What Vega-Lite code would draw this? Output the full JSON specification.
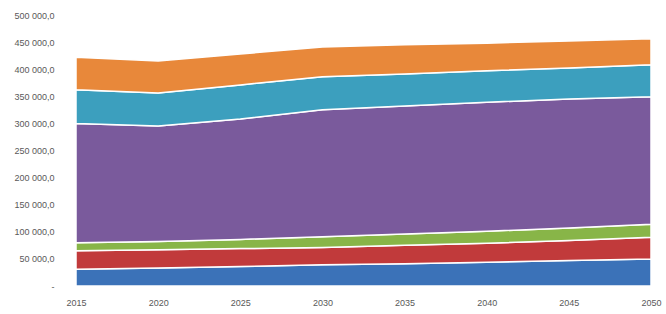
{
  "$schema": "https://vega.github.io/schema/vega-lite/v6.json",
  "width": 575,
  "height": 271,
  "autosize": {"type": "none"},
  "padding": {"left": 76, "top": 15, "right": 15, "bottom": 28},
  "background": "white",
  "config": {"view": {"stroke": null}, "font": "Liberation Sans"},
  "data": {"values": [
    {"year": 2015, "series": "Series 1", "value": 31000},
    {"year": 2020, "series": "Series 1", "value": 33000},
    {"year": 2025, "series": "Series 1", "value": 36000},
    {"year": 2030, "series": "Series 1", "value": 39000},
    {"year": 2035, "series": "Series 1", "value": 41000},
    {"year": 2040, "series": "Series 1", "value": 44000},
    {"year": 2045, "series": "Series 1", "value": 47000},
    {"year": 2050, "series": "Series 1", "value": 50000},
    {"year": 2015, "series": "Series 2", "value": 34000},
    {"year": 2020, "series": "Series 2", "value": 34000},
    {"year": 2025, "series": "Series 2", "value": 33000},
    {"year": 2030, "series": "Series 2", "value": 32000},
    {"year": 2035, "series": "Series 2", "value": 34000},
    {"year": 2040, "series": "Series 2", "value": 35000},
    {"year": 2045, "series": "Series 2", "value": 37000},
    {"year": 2050, "series": "Series 2", "value": 40000},
    {"year": 2015, "series": "Series 3", "value": 15000},
    {"year": 2020, "series": "Series 3", "value": 15000},
    {"year": 2025, "series": "Series 3", "value": 17000},
    {"year": 2030, "series": "Series 3", "value": 20000},
    {"year": 2035, "series": "Series 3", "value": 21000},
    {"year": 2040, "series": "Series 3", "value": 22000},
    {"year": 2045, "series": "Series 3", "value": 23000},
    {"year": 2050, "series": "Series 3", "value": 24000},
    {"year": 2015, "series": "Series 4", "value": 220000},
    {"year": 2020, "series": "Series 4", "value": 213000},
    {"year": 2025, "series": "Series 4", "value": 222000},
    {"year": 2030, "series": "Series 4", "value": 234000},
    {"year": 2035, "series": "Series 4", "value": 236000},
    {"year": 2040, "series": "Series 4", "value": 238000},
    {"year": 2045, "series": "Series 4", "value": 238000},
    {"year": 2050, "series": "Series 4", "value": 235000},
    {"year": 2015, "series": "Series 5", "value": 62000},
    {"year": 2020, "series": "Series 5", "value": 61000},
    {"year": 2025, "series": "Series 5", "value": 63000},
    {"year": 2030, "series": "Series 5", "value": 61000},
    {"year": 2035, "series": "Series 5", "value": 59000},
    {"year": 2040, "series": "Series 5", "value": 58000},
    {"year": 2045, "series": "Series 5", "value": 57000},
    {"year": 2050, "series": "Series 5", "value": 59000},
    {"year": 2015, "series": "Series 6", "value": 60000},
    {"year": 2020, "series": "Series 6", "value": 59000},
    {"year": 2025, "series": "Series 6", "value": 57000},
    {"year": 2030, "series": "Series 6", "value": 55000},
    {"year": 2035, "series": "Series 6", "value": 54000},
    {"year": 2040, "series": "Series 6", "value": 51000},
    {"year": 2045, "series": "Series 6", "value": 50000},
    {"year": 2050, "series": "Series 6", "value": 48000}
  ]},
  "mark": {"type": "area", "stroke": "white", "strokeWidth": 1.5, "opacity": 1},
  "encoding": {
    "x": {
      "field": "year", "type": "quantitative",
      "scale": {"domain": [2015, 2050], "nice": false, "zero": false},
      "axis": {"values": [2015, 2020, 2025, 2030, 2035, 2040, 2045, 2050], "format": "d", "title": null, "grid": false, "domain": false, "ticks": false, "labelColor": "#595959", "labelFontSize": 9, "labelPadding": 12, "labelFlush": false}
    },
    "y": {
      "field": "value", "type": "quantitative", "stack": "zero",
      "scale": {"domain": [0, 500000], "nice": false},
      "axis": {"values": [0, 50000, 100000, 150000, 200000, 250000, 300000, 350000, 400000, 450000, 500000], "title": null, "grid": false, "domain": false, "ticks": false, "labelColor": "#595959", "labelFontSize": 9, "labelPadding": 22,
        "labelExpr": "datum.value == 0 ? '-' : replace(replace(format(datum.value, ',.1f'), ',', ' '), '.', ',')"}
    },
    "color": {
      "field": "series", "type": "nominal",
      "scale": {"domain": ["Series 1", "Series 2", "Series 3", "Series 4", "Series 5", "Series 6"], "range": ["#3b72b8", "#c13a3b", "#88b548", "#7a5a9c", "#3c9fbe", "#e8883a"]},
      "legend": null
    },
    "order": {"field": "series", "sort": "ascending"}
  }
}
